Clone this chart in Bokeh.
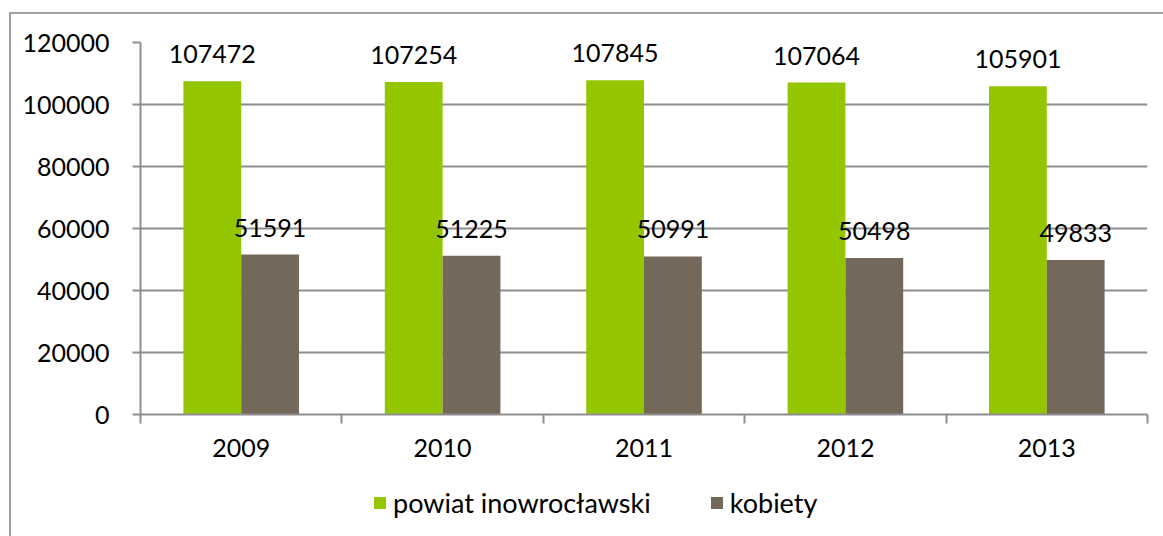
from bokeh.plotting import figure
from bokeh.layouts import column
from bokeh.models import (ColumnDataSource, LabelSet, Legend, LegendItem, FixedTicker,
                          NumeralTickFormatter, Range1d, BoxAnnotation)
from bokeh.transform import dodge
from bokeh.core.properties import value
from bokeh.embed import file_html
from bokeh.resources import INLINE

years = [2009, 2010, 2011, 2012, 2013]
powiat = [107472, 107254, 107845, 107064, 105901]
kobiety = [51591, 51225, 50991, 50498, 49833]
y_ticks = [0, 20000, 40000, 60000, 80000, 100000, 120000]
series_names = ["powiat inowrocławski", "kobiety"]

GREEN = "#94C600"
BROWN = "#73685A"
GRID = "#8E8E8E"
FONT = "Lato"
FS = "25px"

src = ColumnDataSource(dict(
    year=years,
    powiat=powiat,
    kobiety=kobiety,
    powiat_txt=[str(v) for v in powiat],
    kobiety_txt=[str(v) for v in kobiety],
))

ox, oy = 11, 14          # canvas origin on the page (after css margin + border)
frame_l, frame_r, frame_t, frame_b = 140, 1147, 42, 414
W = 1152
H1 = 470 - oy

p = figure(width=W, height=H1,
           output_backend="svg", toolbar_location=None,
           x_range=Range1d(years[0] - 0.5, years[-1] + 0.5),
           y_range=Range1d(y_ticks[0], y_ticks[-1]),
           min_border_left=frame_l - ox, min_border_right=W - (frame_r - ox),
           min_border_top=frame_t - oy, min_border_bottom=H1 - (frame_b - oy))
p.outline_line_color = None
p.background_fill_color = "white"
p.border_fill_color = "white"

bw = 0.287
r1 = p.vbar(x=dodge("year", -bw / 2, range=p.x_range), top="powiat", width=bw,
            source=src, fill_color=GREEN, line_color=None)
r2 = p.vbar(x=dodge("year", bw / 2, range=p.x_range), top="kobiety", width=bw,
            source=src, fill_color=BROWN, line_color=None)

for col, txt, off in (("powiat", "powiat_txt", -bw / 2), ("kobiety", "kobiety_txt", bw / 2)):
    lab = LabelSet(x=dodge("year", off, range=p.x_range), y=col, text=txt, source=src,
                   text_align="center", text_baseline="alphabetic", y_offset=18,
                   text_font=value(FONT), text_font_size=FS, text_color="#000000")
    p.add_layout(lab)

p.xaxis.ticker = FixedTicker(ticks=years, minor_ticks=[y - 0.5 for y in years] + [years[-1] + 0.5])
p.xaxis.major_tick_line_color = None
p.xaxis.major_tick_out = 0
p.xaxis.major_tick_in = 0
p.xaxis.minor_tick_line_color = GRID
p.xaxis.minor_tick_out = 9
p.xaxis.minor_tick_in = 0
p.xaxis.axis_line_color = GRID
p.xaxis.axis_line_width = 2
p.xaxis.minor_tick_line_width = 2
p.xaxis.major_label_standoff = 15
p.xaxis.major_label_text_font = FONT
p.xaxis.major_label_text_font_size = FS
p.xaxis.major_label_text_color = "#000000"

p.yaxis.ticker = FixedTicker(ticks=y_ticks, minor_ticks=[])
p.yaxis.formatter = NumeralTickFormatter(format="0")
p.yaxis.axis_line_color = GRID
p.yaxis.axis_line_width = 2
p.yaxis.major_tick_line_color = GRID
p.yaxis.major_tick_line_width = 2
p.yaxis.major_tick_out = 8
p.yaxis.major_tick_in = 0
p.yaxis.minor_tick_line_color = None
p.yaxis.major_label_standoff = 23
p.yaxis.major_label_text_font = FONT
p.yaxis.major_label_text_font_size = FS
p.yaxis.major_label_text_color = "#000000"

p.xgrid.grid_line_color = None
p.ygrid.grid_line_color = GRID
p.ygrid.grid_line_width = 2

# legend strip below the chart (its frame is aligned with the chart frame)
H2 = 536 - oy - H1
lp = figure(width=W, height=H2, output_backend="svg", toolbar_location=None,
            x_range=p.x_range, y_range=Range1d(-1_000_000, -900_000),
            min_border_left=0, min_border_right=0, min_border_top=0, min_border_bottom=0)
lp.axis.visible = False
lp.grid.visible = False
lp.outline_line_color = None
lp.background_fill_color = "white"
lp.border_fill_color = "white"
# zero-size proxies for the legend swatches
k1 = lp.vbar(x="year", top="powiat", bottom="powiat", width=0, source=src,
             fill_color=GREEN, line_color=None)
k2 = lp.vbar(x="year", top="kobiety", bottom="kobiety", width=0, source=src,
             fill_color=BROWN, line_color=None)
# white mask over the strip's frame, drawn above the proxies and below the legend
lp.add_layout(BoxAnnotation(level="guide", fill_color="white", fill_alpha=1.0,
                            line_color=None))
legend = Legend(items=[LegendItem(label=series_names[0], renderers=[k1]),
                       LegendItem(label=series_names[1], renderers=[k2])],
                orientation="horizontal", location=(372 - frame_l, 17),
                glyph_width=15, glyph_height=15, label_standoff=6, spacing=58,
                padding=0, margin=0, border_line_color=None, background_fill_alpha=0,
                label_text_font=FONT, label_text_font_size="27px", label_text_color="#000000")
lp.add_layout(legend, "center")

layout = column(p, lp, spacing=0)
layout.styles = {"margin-left": "9px", "margin-top": "12px",
                 "border-left": "2px solid #A0A0A0", "border-top": "2px solid #A0A0A0"}
open("out.html", "w").write(file_html(layout, INLINE))
